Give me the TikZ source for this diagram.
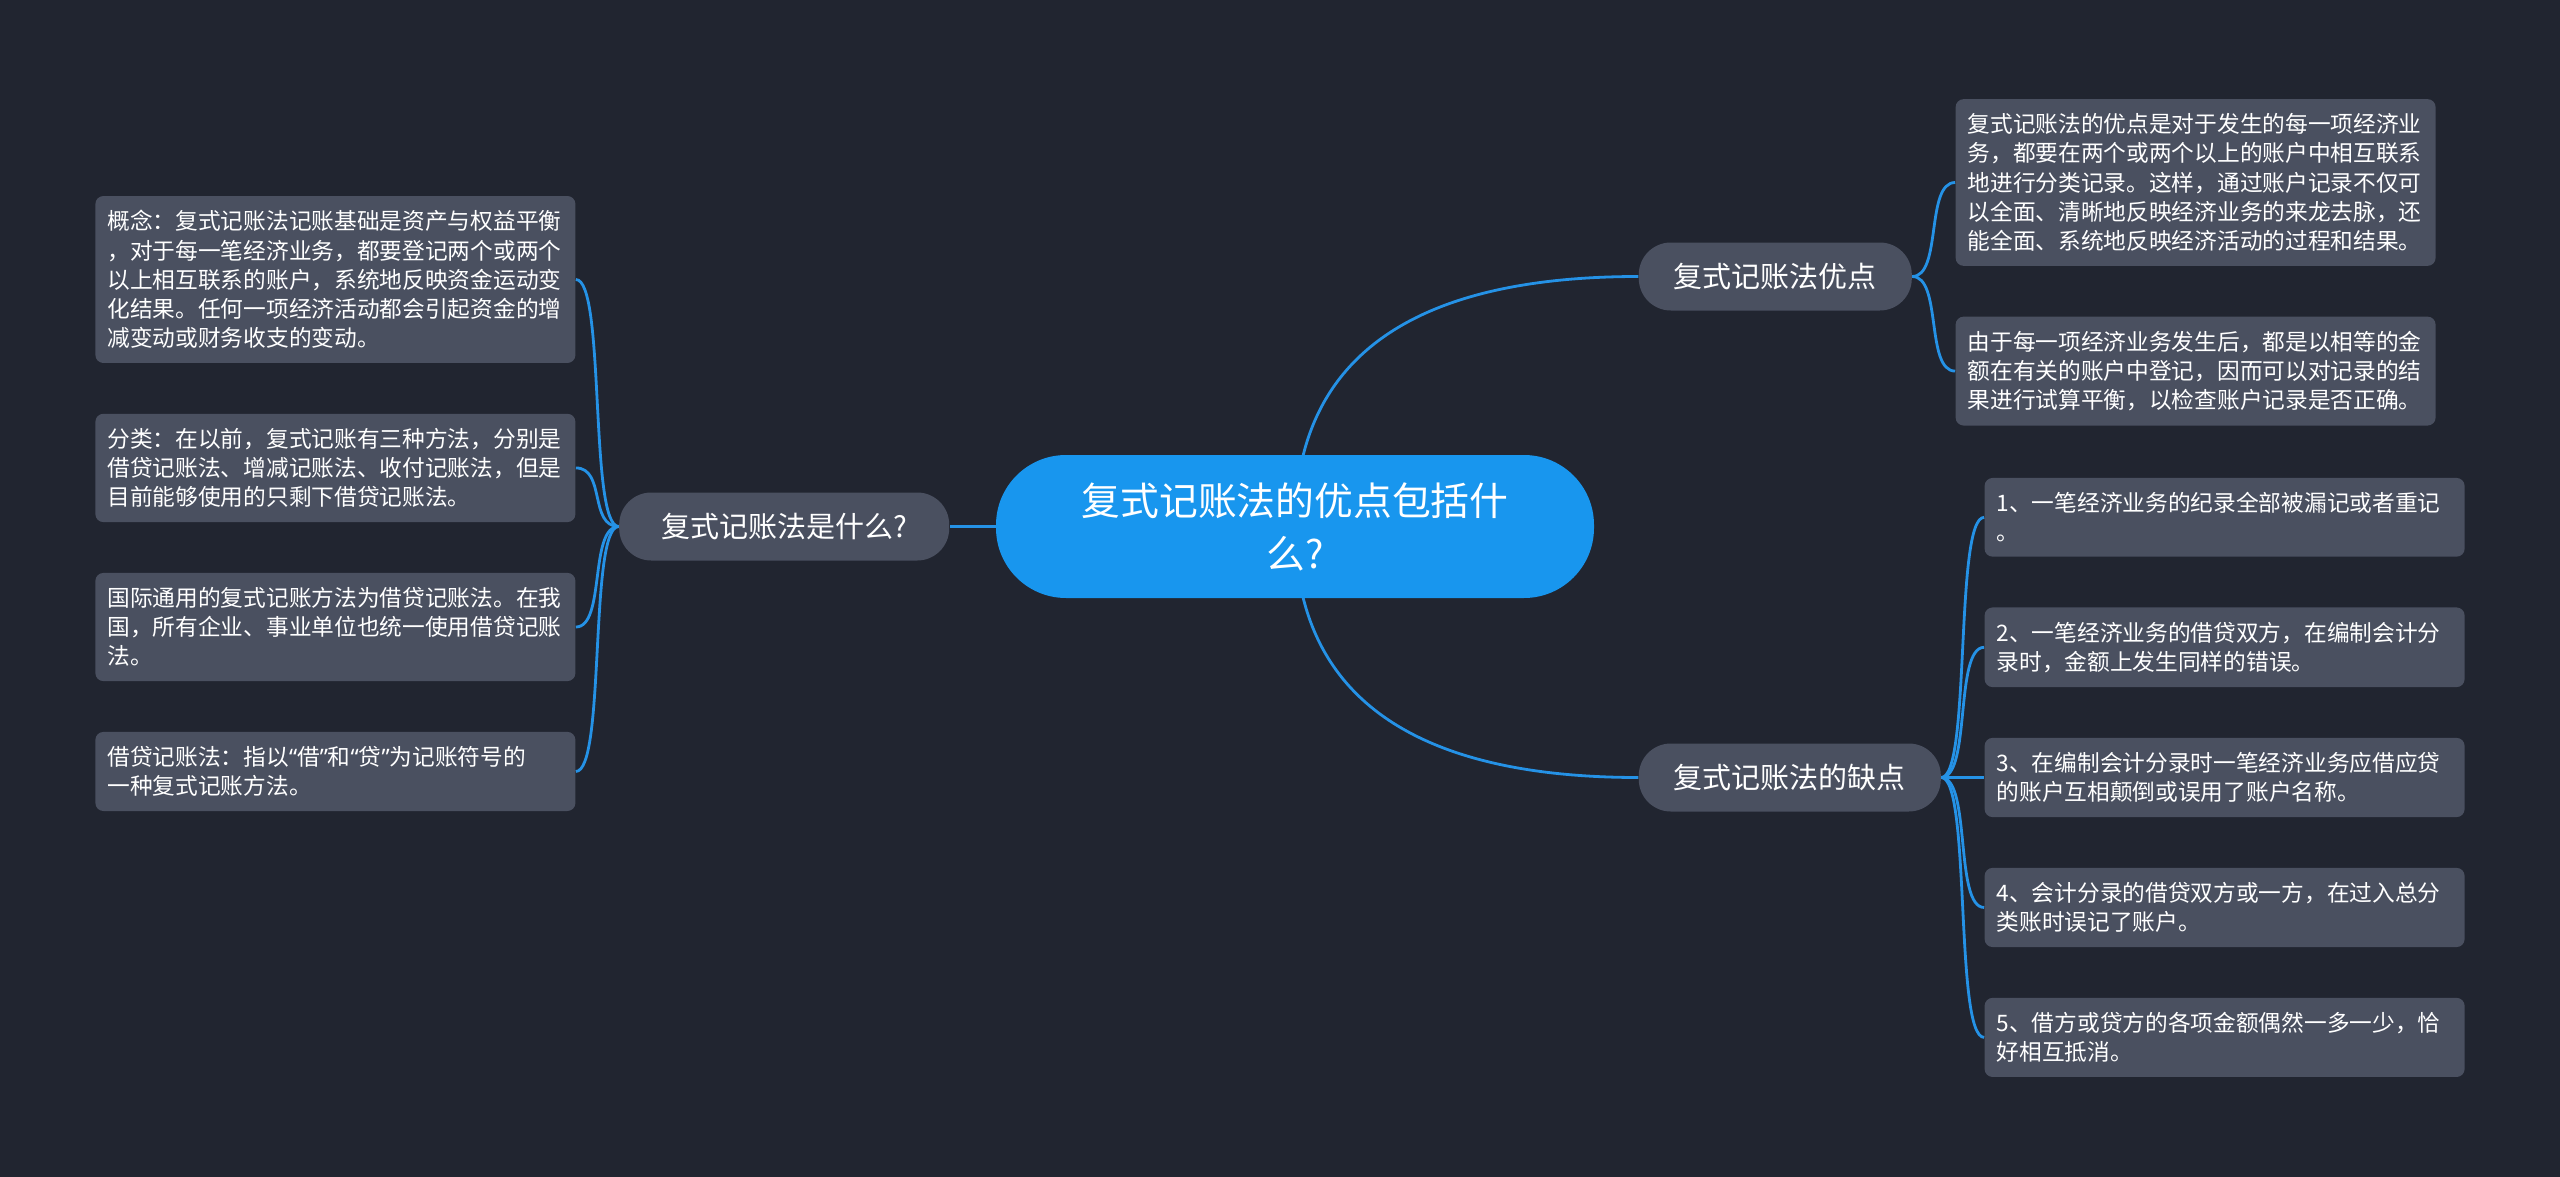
\documentclass[tikz,border=0pt]{standalone}
\usepackage{fontspec}
\setmainfont{Noto Sans CJK SC}
\newfontfamily\quotefont{Noto Sans}
\usepackage{xcolor}
\usetikzlibrary{positioning,backgrounds}
\definecolor{bgdark}{RGB}{33,37,48}
\definecolor{rootblue}{RGB}{24,150,238}
\definecolor{linkblue}{RGB}{37,146,230}
\definecolor{cardgrey}{RGB}{74,80,96}
\newcommand{\openq}{{\quotefont “}}
\newcommand{\closeq}{{\quotefont ”}}
\pgfdeclarelayer{backdrop}
\pgfsetlayers{backdrop,background,main}

\begin{document}
\begin{tikzpicture}[
        x=0.5pt, y=-0.5pt,
        node distance=25pt and 21.5pt,
        topic/.style={fill=rootblue, text=white, rounded corners=35pt, minimum width=299pt, minimum height=71.5pt, align=center, font=\fontsize{19.4pt}{26.5pt}\selectfont},
        branch/.style={fill=cardgrey, text=white, rounded corners=16pt, minimum height=34pt, inner xsep=17.5pt, font=\fontsize{14.5pt}{17pt}\selectfont},
        leaf/.style={fill=cardgrey, text=white, rounded corners=4pt, text width=228pt, align=left, inner xsep=6pt, inner ysep=7.2pt, font=\fontsize{11.35pt}{14.6pt}\selectfont},
        link/.style={linkblue, line width=1.4pt}
    ]
        \useasboundingbox (0,0) rectangle (2560,1177);
        \begin{pgfonlayer}{backdrop}
            \fill[bgdark] (0,0) rectangle (2560,1177);
        \end{pgfonlayer}

        % Central topic
        \node[topic] (root) at (1295,526.5) {复式记账法的优点包括什\\么?};

        % Main branches
        \node[branch, minimum width=165pt, left=23pt of root.west] (what) {复式记账法是什么?};
        \node[branch, right=22pt of root.east, yshift=125pt] (pros) {复式记账法优点};
        \node[branch, right=22pt of root.east, yshift=-125.5pt] (cons) {复式记账法的缺点};

        % Left: what it is
        \node[leaf, left=21.5pt of what.west, yshift=123.5pt] (def) {概念：复式记账法记账基础是资产与权益平衡\\，对于每一笔经济业务，都要登记两个或两个\\以上相互联系的账户，系统地反映资金运动变\\化结果。任何一项经济活动都会引起资金的增\\减变动或财务收支的变动。};
        \node[leaf, below=of def] (kinds) {分类：在以前，复式记账有三种方法，分别是\\借贷记账法、增减记账法、收付记账法，但是\\目前能够使用的只剩下借贷记账法。};
        \node[leaf, below=of kinds] (intl) {国际通用的复式记账方法为借贷记账法。在我\\国，所有企业、事业单位也统一使用借贷记账\\法。};
        \node[leaf, below=of intl] (dc) {借贷记账法：指以\openq 借\closeq 和\openq 贷\closeq 为记账符号的\\一种复式记账方法。};

        % Right top: merits
        \node[leaf, right=21.5pt of pros.east, yshift=47pt] (merit1) {复式记账法的优点是对于发生的每一项经济业\\务，都要在两个或两个以上的账户中相互联系\\地进行分类记录。这样，通过账户记录不仅可\\以全面、清晰地反映经济业务的来龙去脉，还\\能全面、系统地反映经济活动的过程和结果。};
        \node[leaf, below=of merit1] (merit2) {由于每一项经济业务发生后，都是以相等的金\\额在有关的账户中登记，因而可以对记录的结\\果进行试算平衡，以检查账户记录是否正确。};

        % Right bottom: flaws
        \node[leaf, right=21.5pt of cons.east] (flaw3) {3、在编制会计分录时一笔经济业务应借应贷\\的账户互相颠倒或误用了账户名称。};
        \node[leaf, above=of flaw3] (flaw2) {2、一笔经济业务的借贷双方，在编制会计分\\录时，金额上发生同样的错误。};
        \node[leaf, above=of flaw2] (flaw1) {1、一笔经济业务的纪录全部被漏记或者重记\\。};
        \node[leaf, below=of flaw3] (flaw4) {4、会计分录的借贷双方或一方，在过入总分\\类账时误记了账户。};
        \node[leaf, below=of flaw4] (flaw5) {5、借方或贷方的各项金额偶然一多一少，恰\\好相互抵消。};

        % Connectors
        \begin{scope}[on background layer]
            \draw[link] (root.center) -- (what.east);
            \draw[link] (root.center) .. controls +(0,-167) and +(-229,0) .. (pros.west);
            \draw[link] (root.center) .. controls +(0,167) and +(-229,0) .. (cons.west);
            \foreach \leafname in {def,kinds,intl,dc}
                \draw[link] (what.west) .. controls +(-30,0) and +(30,0) .. (\leafname.east);
            \foreach \leafname in {merit1,merit2}
                \draw[link] (pros.east) .. controls +(30,0) and +(-30,0) .. (\leafname.west);
            \foreach \leafname in {flaw1,flaw2,flaw3,flaw4,flaw5}
                \draw[link] (cons.east) .. controls +(30,0) and +(-30,0) .. (\leafname.west);
        \end{scope}
\end{tikzpicture}
\end{document}
